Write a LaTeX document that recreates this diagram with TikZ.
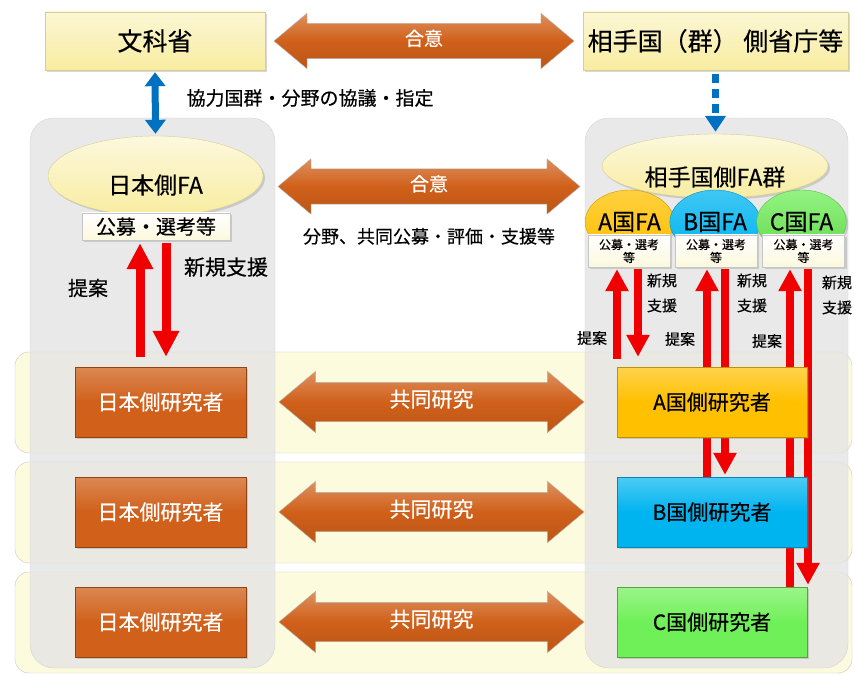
\documentclass[tikz,border=0pt]{standalone}
\usepackage{fontspec}
\setmainfont{Noto Sans CJK JP}[FakeBold=0.4]
\usetikzlibrary{shapes,arrows.meta,positioning,calc,shadows}

\definecolor{paleyellow}{RGB}{248,236,160}
\definecolor{paleedge}{RGB}{215,205,150}
\definecolor{cream}{RGB}{252,248,222}
\definecolor{bandyellow}{RGB}{253,251,222}
\definecolor{panelgray}{RGB}{228,228,228}
\definecolor{rustorange}{RGB}{208,96,26}
\definecolor{golda}{RGB}{255,192,0}
\definecolor{blueb}{RGB}{0,180,240}
\definecolor{greenc}{RGB}{112,240,88}
\definecolor{arrowred}{RGB}{240,0,0}
\definecolor{arrowblue}{RGB}{0,112,192}

\newcommand{\fsz}[1]{\fontsize{#1}{#1}\selectfont}

\pgfdeclarelayer{bands}
\pgfdeclarelayer{links}
\pgfsetlayers{bands,links,main}

\begin{document}
\begin{tikzpicture}[x=1pt,y=-1pt,
    shade/.style = {drop shadow={opacity=.3,shadow xshift=2pt,shadow yshift=-2pt}},
    ministry/.style = {draw=paleedge, top color=paleyellow!45!white, bottom color=paleyellow, shade, minimum height=58pt, font=\fsz{25}},
    fa/.style = {ellipse, draw=paleedge, top color=paleyellow!35!white, bottom color=paleyellow, shade},
    fatext/.style = {font=\fsz{23}},
    subfa/.style = {ellipse, minimum width=86pt, minimum height=64pt, inner sep=0pt, font=\fsz{23}, shade},
    selbox/.style = {draw=gray!45, top color=white, bottom color=cream, shade},
    selsmall/.style = {selbox, minimum width=82pt, minimum height=32pt, align=center, inner sep=1pt, font=\fontsize{12}{13}\selectfont},
    res/.style = {minimum height=70pt, font=\fsz{21}, shade},
    jpres/.style = {res, draw=rustorange!70!black, top color=rustorange!75!white, bottom color=rustorange, middle color=rustorange, text=white, minimum width=171pt},
    ptres/.style = {res, minimum width=190pt},
    agree/.style = {double arrow, double arrow head extend=10pt, double arrow tip angle=80, draw=gray!60, top color=rustorange!70!white, bottom color=rustorange!90!black, middle color=rustorange, text=white, text height=13pt, text depth=4pt, inner ysep=9pt, font=\fsz{19}},
    joint/.style = {agree, double arrow head extend=11pt, text height=14pt, inner ysep=10.5pt, font=\fsz{21}},
    lbl/.style = {font=\fsz{20}},
    lblsmall/.style = {font=\fontsize{15}{25}\selectfont, align=center},
    bluelink/.style = {draw=arrowblue, line width=7pt},
    redbig/.style = {draw=arrowred, line width=9pt, -{Triangle[width=25pt,length=26pt]}},
    redsmall/.style = {draw=arrowred, line width=8pt, -{Triangle[width=22pt,length=22pt]}},
    band/.style = {draw=gray!45, fill=bandyellow, rounded corners=14pt},
    panel/.style = {draw=gray!35, fill=panelgray, fill opacity=.8, rounded corners=24pt}
  ]
  \useasboundingbox (0,0) rectangle (854,676);

  % ministries
  \node[ministry, minimum width=220pt] (mext) at (155,41) {文科省};
  \node[ministry, minimum width=265pt] (pext) at (715.5,41) {相手国（群） 側省庁等};
  \node[agree, minimum height=300pt] (agree1) at ($(mext.east)!.5!(pext.west)$) {合意};

  % funding agencies
  \node[fa, minimum width=215pt, minimum height=80pt, label={[fatext,yshift=-9pt]center:日本側FA}] (jpfa) at (155.5,176) {};
  \node[selbox, minimum width=148pt, minimum height=27pt, font=\fsz{20}] (jpsel) at (156,226.5) {公募・選考等};
  \node[fa, minimum width=226pt, minimum height=64pt, label={[fatext,yshift=-11pt]center:相手国側FA群}] (ptfa) at (715,166) {};
  \node[subfa, draw=golda!80!black, top color=golda!75!white, bottom color=golda] (faA) at (629.5,222) {A国FA};
  \node[subfa, draw=blueb!80!black, top color=blueb!75!white, bottom color=blueb] (faB) at (715,222) {B国FA};
  \node[subfa, draw=greenc!80!black, top color=greenc!75!white, bottom color=greenc!90!black] (faC) at (801.5,222) {C国FA};
  \node[selsmall] (selA) at (629,251) {公募・選考\\等};
  \node[selsmall] (selB) at (716,251) {公募・選考\\等};
  \node[selsmall] (selC) at (803.5,251) {公募・選考\\等};
  \node[agree, minimum height=302pt] (agree2) at (429,186.5) {合意};
  \node[below=20pt of agree2, font=\fsz{18}] (fields) {分野、共同公募・評価・支援等};

  \draw[bluelink, {Triangle[width=20pt,length=14pt]}-{Triangle[width=20pt,length=14pt]}, shorten <=2pt, shorten >=2pt] (mext.south) -- (jpfa.north);
  \node[lbl, font=\fsz{19}, anchor=west] (consult) at (183,98) {協力国群・分野の協議・指定};
  \draw[bluelink, dash pattern=on 9pt off 6pt, -{Triangle[width=20pt,length=16pt]}, shorten <=4pt, shorten >=2pt] (pext.south) -- (pext.south |- ptfa.north);

  % researchers
  \node[jpres] (jp1) at (160.5,402) {日本側研究者};
  \node[jpres] (jp2) at (160.5,512) {日本側研究者};
  \node[jpres] (jp3) at (160.5,622) {日本側研究者};
  \node[ptres, draw=golda!75!black, top color=golda!70!white, bottom color=golda, middle color=golda] (resA) at (712,402) {A国側研究者};
  \node[ptres, draw=blueb!75!black, top color=blueb!70!white, bottom color=blueb, middle color=blueb] (resB) at (712,512) {B国側研究者};
  \node[ptres, draw=greenc!70!black, top color=greenc!70!white, bottom color=greenc, middle color=greenc] (resC) at (712,622) {C国側研究者};
  \node[joint, minimum height=305pt] (joint1) at ($(jp1.east)!.5!(resA.west)$) {共同研究};
  \node[joint, minimum height=305pt] (joint2) at ($(jp2.east)!.5!(resB.west)$) {共同研究};
  \node[joint, minimum height=305pt] (joint3) at ($(jp3.east)!.5!(resC.west)$) {共同研究};

  % proposal / support labels
  \node[lbl] (propjp) at (88,288) {提案};
  \node[lbl, font=\fsz{21}] (newjp) at (226,267) {新規支援};
  \node[lblsmall] (newA) at (662,293) {新規\\支援};
  \node[lblsmall] (newB) at (752,293) {新規\\支援};
  \node[lblsmall] (newC) at (837,295) {新規\\支援};
  \node[lblsmall] (propA) at (592,338) {提案};
  \node[lblsmall] (propB) at (680,339) {提案};
  \node[lblsmall] (propC) at (767,341) {提案};

  \coordinate (jpup) at ($(jpsel.south)+(-16,0)$);
  \coordinate (jpdn) at ($(jpsel.south)+(10,0)$);
  \coordinate (upA) at ($(selA.south)+(-12,0)$);
  \coordinate (dnA) at ($(selA.south)+(9,0)$);
  \coordinate (upB) at ($(selB.south)+(-9,0)$);
  \coordinate (dnB) at ($(selB.south)+(9,0)$);
  \coordinate (upC) at ($(selC.south)+(-13.5,0)$);
  \coordinate (dnC) at ($(selC.south)+(4.5,0)$);

  \begin{pgfonlayer}{links}
    \draw[redbig, shorten <=10pt, shorten >=3pt] (jpup |- jp1.north) -- (jpup);
    \draw[redbig, shorten <=3pt, shorten >=10pt] (jpdn) -- (jpdn |- jp1.north);
    \draw[redsmall, shorten <=8pt, shorten >=2pt] (upA |- resA.north) -- (upA);
    \draw[redsmall, shorten <=2pt, shorten >=10pt] (dnA) -- (dnA |- resA.north);
    \draw[redsmall, shorten >=2pt] (upB |- resB.north) -- (upB);
    \draw[redsmall, shorten <=2pt, shorten >=2pt] (dnB) -- (dnB |- resB.north);
    \draw[redsmall, shorten >=2pt] (upC |- resC.north) -- (upC);
    \draw[redsmall, shorten <=2pt, shorten >=2pt] (dnC) -- (dnC |- resC.north);
  \end{pgfonlayer}

  % rows and panels
  \begin{pgfonlayer}{bands}
    \fill[white] (0,0) rectangle (854,676);
    \draw[band] (15,352) rectangle (852,453);
    \draw[band] (15,462) rectangle (852,563);
    \draw[band] (15,572) rectangle (852,673);
    \draw[panel] (30,118) rectangle (275,668);
    \draw[panel] (585,118) rectangle (848,668);
  \end{pgfonlayer}
\end{tikzpicture}
\end{document}
